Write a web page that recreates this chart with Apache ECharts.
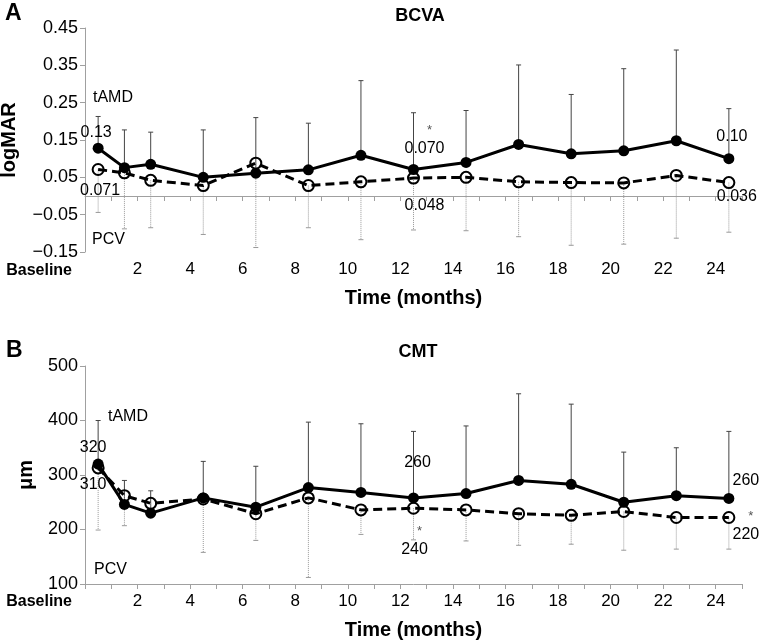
<!DOCTYPE html>
<html>
<head>
<meta charset="utf-8">
<script src="https://cdn.jsdelivr.net/npm/echarts@6/dist/echarts.min.js"></script>
<style>
html,body{margin:0;padding:0;background:#fff;}
#chart{width:759px;height:642px;}
</style>
</head>
<body>
<div id="chart"></div>
<script>
// ---- data ----
var timePos = [0.5, 1.5, 2.5, 4.5, 6.5, 8.5, 10.5, 12.5, 14.5, 16.5, 18.5, 20.5, 22.5, 24.5];
var xTickLabels = ['2', '4', '6', '8', '10', '12', '14', '16', '18', '20', '22', '24'];

var bcvaTAMD      = [0.128, 0.076, 0.085, 0.050, 0.061, 0.070, 0.109, 0.071, 0.090, 0.138, 0.113, 0.121, 0.148, 0.100];
var bcvaTAMDUpper = [0.213, 0.177, 0.171, 0.177, 0.210, 0.195, 0.309, 0.223, 0.229, 0.351, 0.272, 0.341, 0.391, 0.234];
var bcvaPCV       = [0.071, 0.062, 0.042, 0.028, 0.088, 0.028, 0.038, 0.048, 0.050, 0.038, 0.036, 0.035, 0.055, 0.036];
var bcvaPCVLower  = [-0.044, -0.088, -0.085, -0.103, -0.138, -0.085, -0.117, -0.091, -0.093, -0.109, -0.132, -0.129, -0.113, -0.097];

var cmtTAMD      = [320, 246, 230, 258, 241, 277, 268, 258, 266, 290, 283, 250, 262, 257];
var cmtTAMDUpper = [400, 290, 271, 325, 316, 397, 394, 380, 390, 449, 430, 342, 350, 380];
var cmtPCV       = [313, 262, 248, 256, 229, 258, 236, 239, 236, 229, 226, 233, 222, 222];
var cmtPCVLower  = [199, 207, 227, 158, 180, 112, 191, 181, 179, 171, 173, 162, 164, 164];

// annotation texts (index -> text)
var bcvaTAMDNotes = {0: '0.13', 7: '{s|*}\n0.070', 13: '0.10'};
var bcvaPCVNotes  = {0: '0.071', 7: '0.048', 13: '0.036'};
var cmtTAMDNotes  = {0: '320', 7: '260', 13: '260'};
var cmtPCVNotes   = {0: '310', 7: '{s|*}\n240', 13: '{s|*}\n220'};

// ---- layout / styling (not data) ----
var noteOffsets = {
  bcvaTAMD: {0: [-2, -16], 7: [11, -30], 13: [3, -22]},
  bcvaPCV:  {0: [2, 21], 7: [11, 28], 13: [8, 14]},
  cmtTAMD:  {0: [-5, -17], 7: [4, -35], 13: [17, -18]},
  cmtPCV:   {0: [-5, 17], 7: [1, 32], 13: [17, 8]}
};
var FONT = 'Liberation Sans, Arial, Helvetica, sans-serif';

function buildLine(values, notes) {
  return timePos.map(function (x, i) {
    var item = {value: [x, values[i]]};
    if (notes[i] !== undefined) {
      item.label = {
        show: true, formatter: notes[i], position: 'inside',
        fontSize: 16, color: '#000', fontFamily: FONT, align: 'center', verticalAlign: 'middle',
        lineHeight: 18,
        rich: {s: {fontSize: 13, color: '#555', padding: [0, 0, 0, 10], lineHeight: 18}}
      };
    }
    return item;
  });
}
function buildBars(center, end) {
  return timePos.map(function (x, i) { return [x, center[i], end[i]]; });
}
function barRender(color, dash) {
  return function (params, api) {
    var p1 = api.coord([api.value(0), api.value(1)]);
    var p2 = api.coord([api.value(0), api.value(2)]);
    var st = {stroke: color, lineWidth: 1, lineDash: dash};
    return {
      type: 'group',
      children: [
        {type: 'line', shape: {x1: p1[0], y1: p1[1], x2: p2[0], y2: p2[1]}, style: st},
        {type: 'line', shape: {x1: p2[0] - 2.5, y1: p2[1], x2: p2[0] + 2.5, y2: p2[1]}, style: {stroke: color, lineWidth: 1}}
      ]
    };
  };
}
function xAxis(gi) {
  return {
    gridIndex: gi, type: 'value', min: 0, max: 25, interval: 1,
    axisLine: {show: true, lineStyle: {color: '#a0a0a0', width: 1}},
    axisTick: {show: true, length: 5, lineStyle: {color: '#a0a0a0'}},
    splitLine: {show: false},
    axisLabel: {
      fontSize: 17, color: '#000', margin: 9, fontFamily: FONT,
      formatter: function (v) { var s = String(v); return xTickLabels.indexOf(s) >= 0 ? s : ''; }
    },
    name: 'Time (months)', nameLocation: 'middle', nameGap: 36,
    nameTextStyle: {fontSize: 20, fontWeight: 'bold', color: '#000', fontFamily: FONT}
  };
}
function yAxis(gi, min, max, interval, name, gap, fmt) {
  return {
    gridIndex: gi, type: 'value', min: min, max: max, interval: interval,
    axisLine: {show: true, lineStyle: {color: '#a0a0a0', width: 1}},
    axisTick: {show: true, length: 5, lineStyle: {color: '#a0a0a0'}},
    splitLine: {show: false},
    axisLabel: {fontSize: 18, color: '#000', margin: 7, fontFamily: FONT, formatter: fmt},
    name: name, nameLocation: 'middle', nameGap: gap, nameRotate: 90,
    nameTextStyle: {fontSize: 20, fontWeight: 'bold', color: '#000', fontFamily: FONT}
  };
}
function lineSeries(gi, values, notes, offs, dashed) {
  return {
    type: 'line', xAxisIndex: gi, yAxisIndex: gi, z: dashed ? 3 : 4,
    data: buildLine(values, notes),
    symbol: 'circle', symbolSize: 11,
    lineStyle: {color: '#000', width: 3, type: dashed ? [9, 5] : 'solid'},
    itemStyle: dashed ? {color: 'rgba(255,255,255,0)', borderColor: '#000', borderWidth: 2} : {color: '#000', borderWidth: 0},
    emphasis: {disabled: true},
    labelLayout: function (p) {
      var o = offs[p.dataIndex];
      return o ? {dx: o[0], dy: o[1], hideOverlap: false} : {};
    }
  };
}
function barSeries(gi, center, end, color, dash) {
  return {
    type: 'custom', xAxisIndex: gi, yAxisIndex: gi, z: 2,
    data: buildBars(center, end),
    encode: {x: 0, y: [1, 2]},
    renderItem: barRender(color, dash), silent: true
  };
}
function txt(x, y, text, opts) {
  return {
    type: 'text', left: x, top: y,
    style: Object.assign({text: text, fontSize: 16, fill: '#000', fontFamily: FONT}, opts || {})
  };
}

var chart = echarts.init(document.getElementById('chart'), null, {renderer: 'canvas'});
chart.setOption({
  animation: false,
  backgroundColor: '#fff',
  textStyle: {fontFamily: FONT},
  title: [
    {text: 'A', left: 0, top: -3, textStyle: {fontSize: 23, fontWeight: 'bold', color: '#000', fontFamily: FONT}},
    {text: 'BCVA', left: 415, top: 2, textAlign: 'center', textStyle: {fontSize: 18, fontWeight: 'bold', color: '#000', fontFamily: FONT}},
    {text: 'B', left: 1, top: 334, textStyle: {fontSize: 23, fontWeight: 'bold', color: '#000', fontFamily: FONT}},
    {text: 'CMT', left: 413, top: 338, textAlign: 'center', textStyle: {fontSize: 18, fontWeight: 'bold', color: '#000', fontFamily: FONT}}
  ],
  grid: [
    {left: 85, right: 17, top: 28, height: 224, containLabel: false, outerBoundsMode: 'none'},
    {left: 85, right: 17, top: 366, height: 218, containLabel: false, outerBoundsMode: 'none'}
  ],
  xAxis: [xAxis(0), xAxis(1)],
  yAxis: [
    yAxis(0, -0.15, 0.45, 0.1, 'logMAR', 66, function (v) { var s = Math.abs(v).toFixed(2); return (v < -1e-9 ? '\u2212' : '') + s; }),
    yAxis(1, 100, 500, 100, '\u03bcm', 49, function (v) { return String(v); })
  ],
  graphic: [
    txt(93, 90, 'tAMD'), txt(92, 232, 'PCV'),
    txt(108, 409, 'tAMD'), txt(94, 562, 'PCV'),
    {type: 'text', right: 759 - 72, top: 263, style: {text: 'Baseline', fontSize: 16, fontWeight: 'bold', fill: '#000', fontFamily: FONT}},
    {type: 'text', right: 759 - 72, top: 594, style: {text: 'Baseline', fontSize: 16, fontWeight: 'bold', fill: '#000', fontFamily: FONT}}
  ],
  series: [
    barSeries(0, bcvaTAMD, bcvaTAMDUpper, '#444', null),
    barSeries(0, bcvaPCV, bcvaPCVLower, '#999', [1, 1]),
    lineSeries(0, bcvaPCV, bcvaPCVNotes, noteOffsets.bcvaPCV, true),
    lineSeries(0, bcvaTAMD, bcvaTAMDNotes, noteOffsets.bcvaTAMD, false),
    barSeries(1, cmtTAMD, cmtTAMDUpper, '#444', null),
    barSeries(1, cmtPCV, cmtPCVLower, '#999', [1, 1]),
    lineSeries(1, cmtPCV, cmtPCVNotes, noteOffsets.cmtPCV, true),
    lineSeries(1, cmtTAMD, cmtTAMDNotes, noteOffsets.cmtTAMD, false)
  ]
});
</script>
</body>
</html>
